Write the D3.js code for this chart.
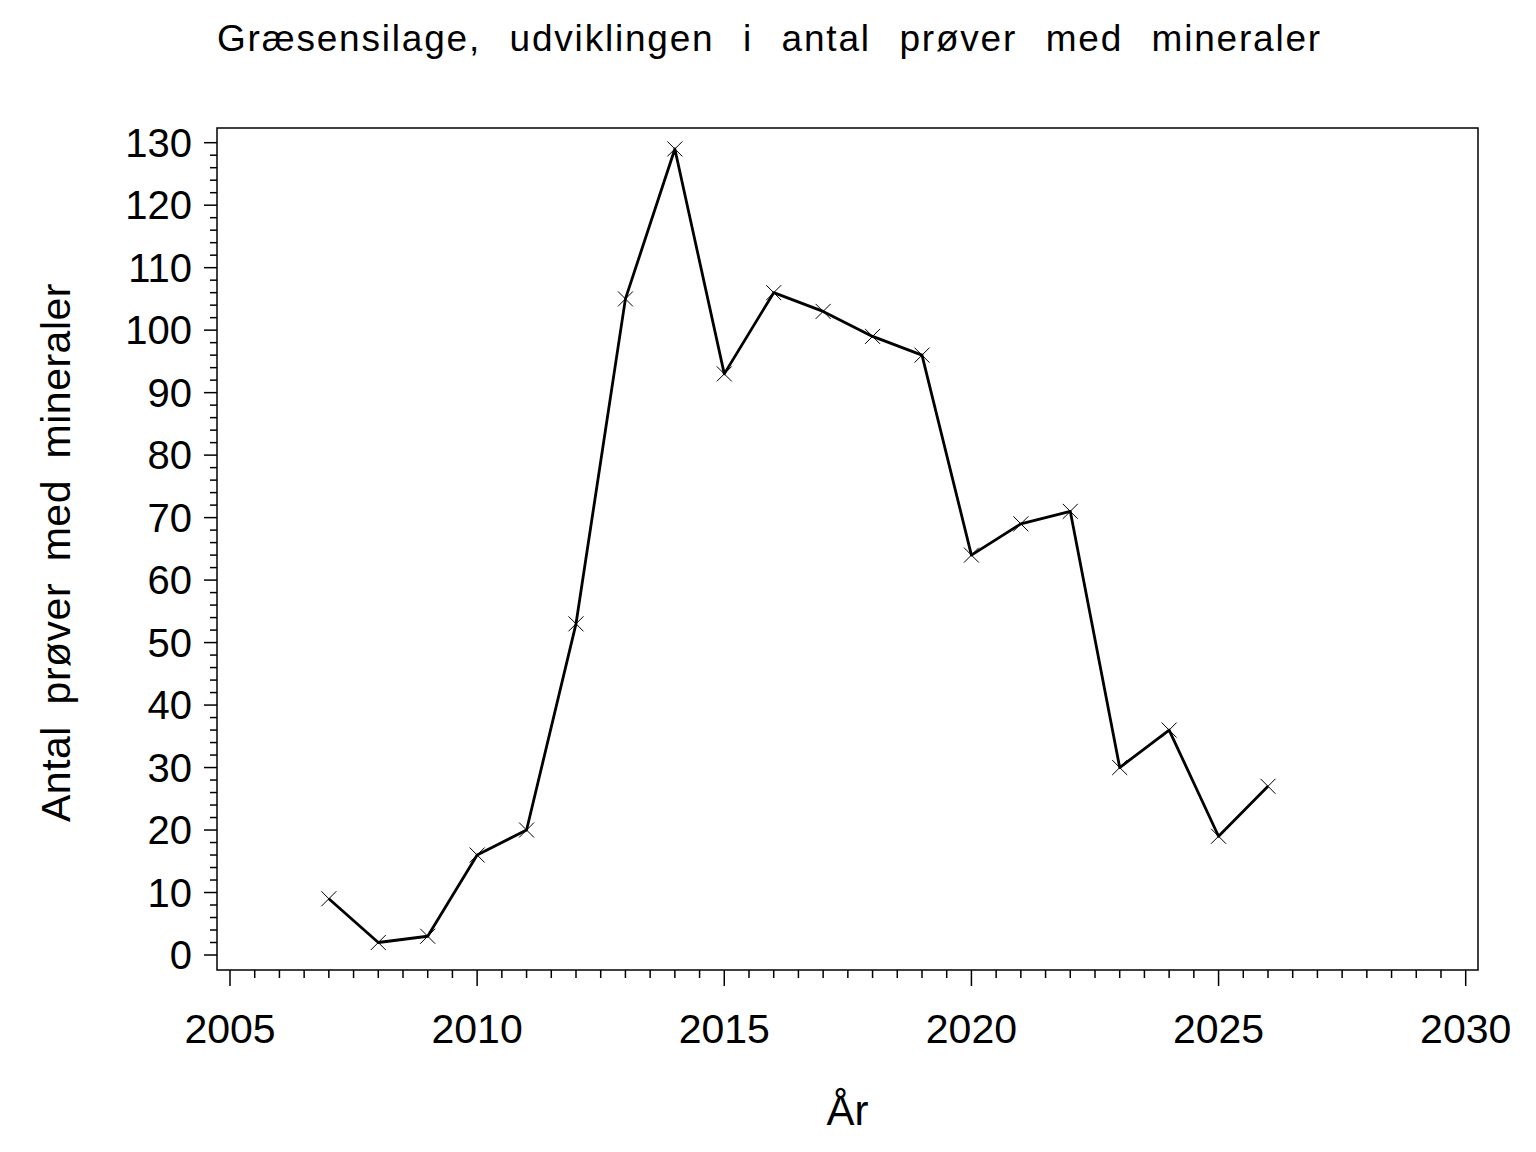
<!DOCTYPE html>
<html><head><meta charset="utf-8">
<script src="https://cdn.jsdelivr.net/npm/d3@7"></script>
<style>body{margin:0;background:#fff}svg{display:block}text{font-family:"Liberation Sans",Arial,sans-serif;fill:#000}</style>
</head><body>
<script>
const years = [2007,2008,2009,2010,2011,2012,2013,2014,2015,2016,2017,2018,2019,2020,2021,2022,2023,2024,2025,2026];
const counts = [9,2,3,16,20,53,105,129,93,106,103,99,96,64,69,71,30,36,19,27];
const xTicks = [2005,2010,2015,2020,2025,2030];
const yTicks = [0,10,20,30,40,50,60,70,80,90,100,110,120,130];
const titleText = "Græsensilage, udviklingen i antal prøver med mineraler";
const yLabel = "Antal prøver med mineraler";
const xLabel = "År";

const W=1536,H=1152;
const frame={l:217,r:1478,t:128,b:970};
const svg=d3.select("body").append("svg").attr("width",W).attr("height",H);
const x=d3.scaleLinear().domain([2005,2030]).range([230,1465.7]);
const y=d3.scaleLinear().domain([0,130]).range([955,142.7]);

svg.append("rect").attr("x",frame.l).attr("y",frame.t).attr("width",frame.r-frame.l).attr("height",frame.b-frame.t)
  .attr("fill","none").attr("stroke","#000").attr("stroke-width",1.5);

// x axis
const xMinor=d3.range(2005,2030.01,0.5);
const gx=svg.append("g");
gx.selectAll("line").data(xMinor).join("line")
  .attr("x1",d=>x(d)).attr("x2",d=>x(d)).attr("y1",frame.b)
  .attr("y2",d=>Number.isInteger(d)&&d%5===0?frame.b+16:frame.b+8)
  .attr("stroke","#000").attr("stroke-width",1.5);
gx.selectAll("text").data(xTicks).join("text")
  .attr("x",d=>x(d)).attr("y",1043).attr("text-anchor","middle")
  .attr("font-size",41).text(d=>d);

// y axis
const yMinor=d3.range(0,130.01,2);
const gy=svg.append("g");
gy.selectAll("line").data(yMinor).join("line")
  .attr("y1",d=>y(d)).attr("y2",d=>y(d)).attr("x1",frame.l)
  .attr("x2",d=>d%10===0?frame.l-13:frame.l-7)
  .attr("stroke","#000").attr("stroke-width",1.5);
gy.selectAll("text").data(yTicks).join("text")
  .attr("x",192).attr("y",d=>y(d)+14).attr("text-anchor","end")
  .attr("font-size",40).text(d=>d);

// line
const pts=years.map((yr,i)=>[yr,counts[i]]);
svg.append("path").datum(pts)
  .attr("d",d3.line().x(d=>x(d[0])).y(d=>y(d[1])))
  .attr("fill","none").attr("stroke","#000").attr("stroke-width",2.8).attr("stroke-linejoin","round");
const s=7.5;
svg.append("g").selectAll("path").data(pts).join("path")
  .attr("d",d=>{const cx=x(d[0]),cy=y(d[1]);return `M${cx-s},${cy-s}L${cx+s},${cy+s}M${cx-s},${cy+s}L${cx+s},${cy-s}`;})
  .attr("stroke","#000").attr("stroke-width",1).attr("fill","none");

// text fitting
function fitWords(t,target){
  const n=(t.text().match(/ /g)||[]).length;
  const len=t.node().getComputedTextLength();
  t.attr("word-spacing",(target-len)/n);
}
const tt=svg.append("text").attr("x",217).attr("y",51).attr("font-size",37).attr("letter-spacing",1.8).text(titleText);
fitWords(tt,1322-217);
const yl=svg.append("text").attr("transform","translate(70,822) rotate(-90)")
  .attr("x",0).attr("y",0).attr("font-size",41).attr("letter-spacing",0.5).text(yLabel);
fitWords(yl,822-283);
svg.append("text").attr("x",847.5).attr("y",1125).attr("text-anchor","middle").attr("font-size",42).text(xLabel);
</script>
</body></html>
